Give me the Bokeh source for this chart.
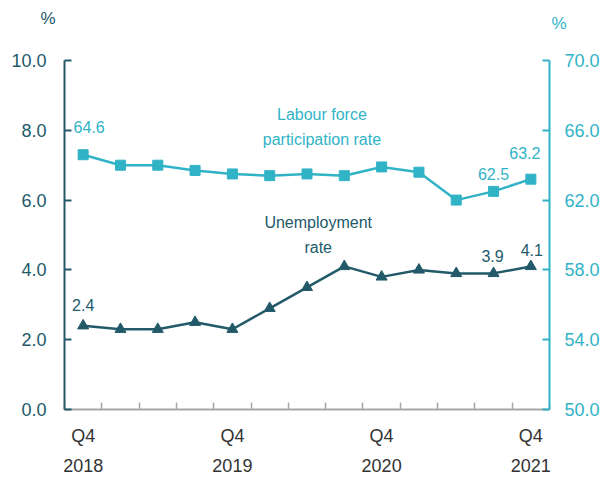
from bokeh.plotting import figure
from bokeh.models import (Range1d, LinearAxis, FixedTicker, NumeralTickFormatter,
                          Label, ColumnDataSource, Title)
from bokeh.core.properties import value
from bokeh.embed import file_html
from bokeh.resources import INLINE

# ---- data ----
quarters = ["Q4 2018", "Q1 2019", "Q2 2019", "Q3 2019", "Q4 2019", "Q1 2020", "Q2 2020",
            "Q3 2020", "Q4 2020", "Q1 2021", "Q2 2021", "Q3 2021", "Q4 2021"]
unemployment = [2.4, 2.3, 2.3, 2.5, 2.3, 2.9, 3.5, 4.1, 3.8, 4.0, 3.9, 3.9, 4.1]
participation = [64.6, 64.0, 64.0, 63.7, 63.5, 63.4, 63.5, 63.4, 63.9, 63.6, 62.0, 62.5, 63.2]
x_tick_labels = {0: "Q4\n2018", 4: "Q4\n2019", 8: "Q4\n2020", 12: "Q4\n2021"}
left_ticks = [0, 2, 4, 6, 8, 10]
right_ticks = [50, 54, 58, 62, 66, 70]
labelled_unemp = [0, 11, 12]
labelled_part = [0, 11, 12]

# ---- style ----
DARK = "#225a6a"
LIGHT = "#31b3c6"
GREY = "#a6a6a6"
TXT = "#333333"
FONT = "Liberation Sans"

xs = [i + 0.5 for i in range(len(quarters))]

p = figure(width=611, height=478, output_backend="svg", toolbar_location=None,
           x_range=Range1d(0, len(quarters)), y_range=Range1d(0, 10),
           min_border_left=64, min_border_right=62, min_border_top=60, min_border_bottom=68)
p.extra_y_ranges = {"right": Range1d(50, 70)}
p.outline_line_color = None
p.xgrid.visible = False
p.ygrid.visible = False
p.background_fill_color = "white"
p.border_fill_color = "white"

# x axis
xa = p.xaxis[0]
xa.ticker = FixedTicker(ticks=[xs[i] for i in x_tick_labels],
                        minor_ticks=list(range(len(quarters) + 1)))
xa.major_label_overrides = {xs[i]: t for i, t in x_tick_labels.items()}
xa.axis_line_color = GREY
xa.axis_line_width = 2
xa.major_tick_in = 0
xa.major_tick_out = 0
xa.minor_tick_in = 7
xa.minor_tick_out = 0
xa.minor_tick_line_color = GREY
xa.minor_tick_line_width = 1.5
xa.major_label_text_font = FONT
xa.major_label_text_font_size = "18px"
xa.major_label_text_color = TXT
xa.major_label_text_line_height = 1.5
xa.major_label_standoff = 16

# left axis
ya = p.yaxis[0]
ya.ticker = FixedTicker(ticks=left_ticks)
ya.formatter = NumeralTickFormatter(format="0.0")
ya.axis_line_color = DARK
ya.axis_line_width = 2
ya.major_tick_line_color = DARK
ya.major_tick_line_width = 2
ya.major_tick_in = 7
ya.major_tick_out = 0
ya.minor_tick_line_color = None
ya.major_label_text_font = FONT
ya.major_label_text_font_size = "18px"
ya.major_label_text_color = DARK
ya.major_label_standoff = 18

# right axis
ra = LinearAxis(y_range_name="right", ticker=FixedTicker(ticks=right_ticks),
                formatter=NumeralTickFormatter(format="0.0"))
ra.axis_line_color = LIGHT
ra.axis_line_width = 2
ra.major_tick_line_color = LIGHT
ra.major_tick_line_width = 2
ra.major_tick_in = 7
ra.major_tick_out = 0
ra.minor_tick_line_color = None
ra.major_label_text_font = FONT
ra.major_label_text_font_size = "18px"
ra.major_label_text_color = LIGHT
ra.major_label_standoff = 15
p.add_layout(ra, "right")

# lines
src = ColumnDataSource(dict(x=xs, u=unemployment, lp=participation))
p.line("x", "lp", source=src, y_range_name="right", line_color=LIGHT, line_width=2.5)
p.scatter("x", "lp", source=src, y_range_name="right", marker="square", size=10,
          fill_color=LIGHT, line_color=LIGHT)
p.line("x", "u", source=src, line_color=DARK, line_width=2.5)
p.scatter("x", "u", source=src, marker="triangle", size=11,
          fill_color=DARK, line_color=DARK)

# data labels
part_lab = ColumnDataSource(dict(
    x=[xs[i] for i in labelled_part],
    y=[participation[i] for i in labelled_part],
    t=[f"{participation[i]:.1f}" for i in labelled_part],
    dx=[6, 0, -6], dy=[-28, -17, -26]))
p.text("x", "y", text="t", source=part_lab, y_range_name="right",
       x_offset="dx", y_offset="dy", text_align="center", text_baseline="middle",
       text_font=value(FONT), text_font_size="16px", text_color=LIGHT)

un_lab = ColumnDataSource(dict(
    x=[xs[i] for i in labelled_unemp],
    y=[unemployment[i] for i in labelled_unemp],
    t=[f"{unemployment[i]:.1f}" for i in labelled_unemp],
    dx=[0, -1, 1], dy=[-21, -17, -16]))
p.text("x", "y", text="t", source=un_lab,
       x_offset="dx", y_offset="dy", text_align="center", text_baseline="middle",
       text_font=value(FONT), text_font_size="16px", text_color=DARK)

# series names
p.add_layout(Label(x=6.9, y=8.1, text="Labour force\nparticipation rate",
                   text_align="center", text_baseline="middle", text_line_height=1.45,
                   text_font=FONT, text_font_size="16px", text_color=LIGHT))
p.add_layout(Label(x=6.8, y=5.0, text="Unemployment\nrate",
                   text_align="center", text_baseline="middle", text_line_height=1.45,
                   text_font=FONT, text_font_size="16px", text_color=DARK))

# axis unit labels above the axes
p.add_layout(Title(text="%", align="right", offset=-17, standoff=-93, vertical_align="top",
                   text_font=FONT, text_font_size="17px", text_font_style="normal",
                   text_color=LIGHT), "above")
p.add_layout(Title(text="%", align="left", offset=-24, standoff=-104, vertical_align="top",
                   text_font=FONT, text_font_size="17px", text_font_style="normal",
                   text_color=DARK), "above")

open("out.html", "w").write(file_html(p, INLINE))
